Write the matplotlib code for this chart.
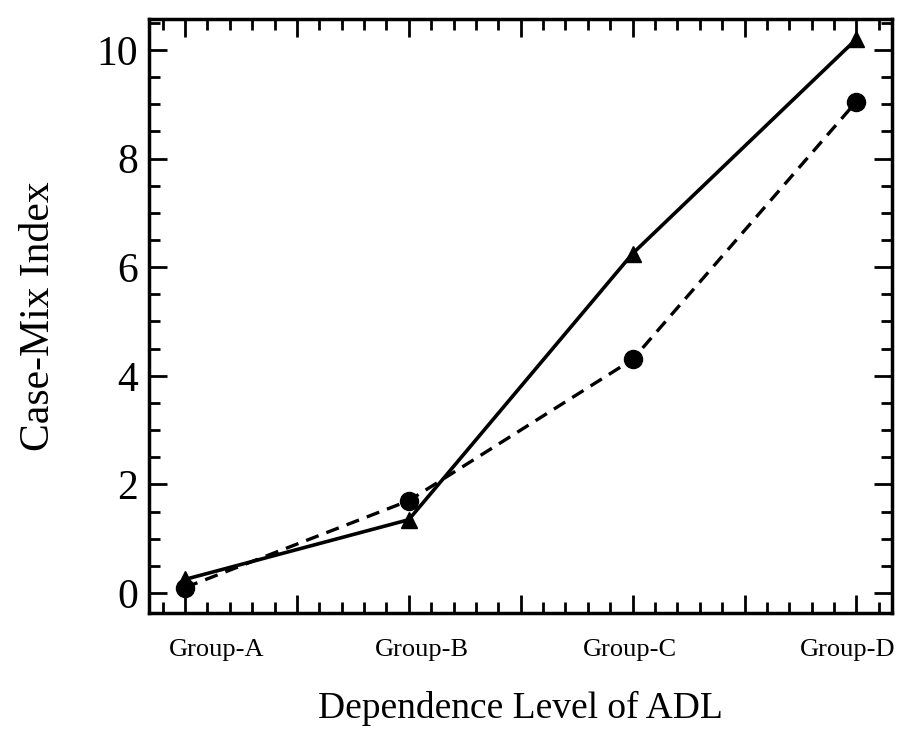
import numpy as np
import matplotlib.pyplot as plt
from matplotlib.ticker import MultipleLocator

groups = ['Group-A', 'Group-B', 'Group-C', 'Group-D']
cmi_triangle = [0.25, 1.35, 6.25, 10.2]
cmi_circle = [0.1, 1.7, 4.3, 9.05]

plt.rcParams['font.family'] = ['Liberation Serif', 'DejaVu Serif']

fig = plt.figure(figsize=(9.04, 7.29), dpi=100)
ax = fig.add_axes([0.165, 0.159, 0.822, 0.815])

x = np.arange(len(groups))
ax.plot(x, cmi_triangle, '-', color='black', lw=2.6, marker='^', ms=12)
ax.plot(x, cmi_circle, '--', color='black', lw=2.4, marker='o', ms=13,
        dashes=(4, 2.5))

ax.set_xlim(-0.16, 3.16)
ax.set_ylim(-0.37, 10.57)

ax.xaxis.set_major_locator(MultipleLocator(0.5))
ax.xaxis.set_minor_locator(MultipleLocator(0.1))
ax.yaxis.set_major_locator(MultipleLocator(2))
ax.yaxis.set_minor_locator(MultipleLocator(0.5))
ax.set_xticklabels([])
ax.tick_params(which='both', direction='in', top=True, right=True, width=2)
ax.tick_params(which='major', length=13, labelsize=30, pad=8)
ax.tick_params(which='minor', length=8)
for s in ax.spines.values():
    s.set_linewidth(2.5)

# group labels sit a little off their ticks in the original
label_shift = [0.14, 0.06, -0.01, -0.04]
for i, name in enumerate(groups):
    ax.text(x[i] + label_shift[i], -0.85, name, ha='center', va='top', fontsize=19)

ax.set_ylabel('Case-Mix Index', fontsize=30, labelpad=28)
ax.set_xlabel('Dependence Level of ADL', fontsize=27, labelpad=48)

fig.savefig('out.png', dpi=100)
